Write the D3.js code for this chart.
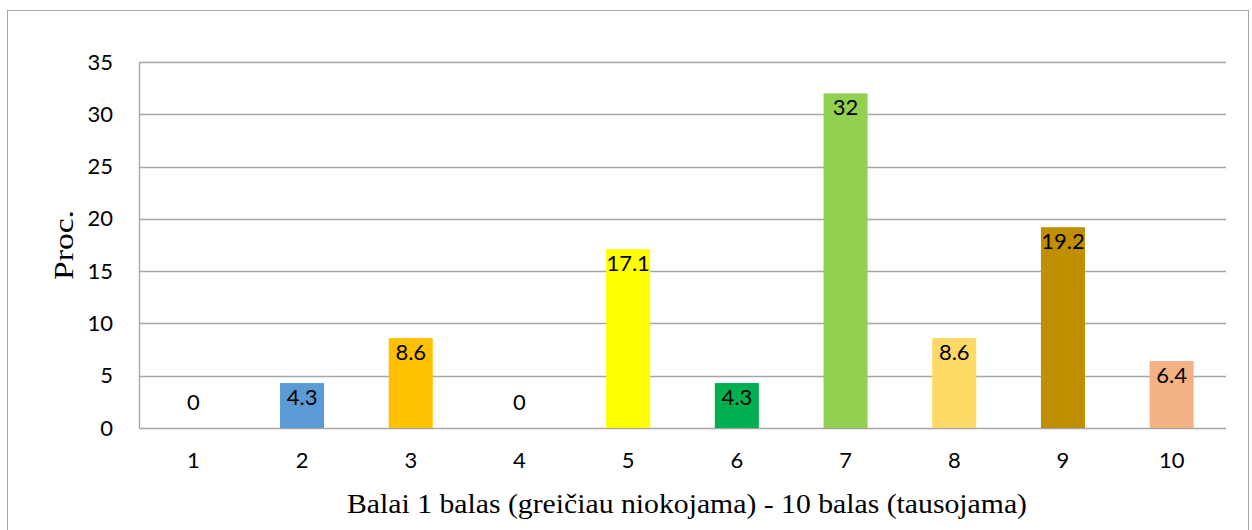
<!DOCTYPE html>
<html>
<head>
<meta charset="utf-8">
<script src="https://cdn.jsdelivr.net/npm/d3@7"></script>
<style>
  body { margin: 0; background: #fff; }
  svg { display: block; }
</style>
</head>
<body>
<div id="chart"></div>
<script>
// chart data
const categories = ["1", "2", "3", "4", "5", "6", "7", "8", "9", "10"];
const values = [0, 4.3, 8.6, 0, 17.1, 4.3, 32, 8.6, 19.2, 6.4];
const barColors = ["#5B9BD5", "#5B9BD5", "#FFC000", "#FFC000", "#FFFF00", "#00B050", "#92D050", "#FFD966", "#BF8F00", "#F4B183"];
const yTicks = [0, 5, 10, 15, 20, 25, 30, 35];
const xTitle = "Balai 1 balas (greičiau niokojama) - 10 balas (tausojama)";
const yTitle = "Proc.";

const W = 1252, H = 530;
const margin = { top: 62, right: 26, bottom: 102, left: 139 };
const width = W - margin.left - margin.right,
      height = H - margin.top - margin.bottom;

const svg = d3.select("#chart").append("svg")
    .attr("width", W)
    .attr("height", H);

// outer chart border
svg.append("rect")
    .attr("x", 7.5).attr("y", 10.5)
    .attr("width", 1241).attr("height", 530)
    .attr("fill", "none")
    .attr("stroke", "#a6a6a6")
    .attr("stroke-width", 1);

const g = svg.append("g")
    .attr("transform", `translate(${margin.left},${margin.top})`);

const x = d3.scaleBand()
    .domain(categories)
    .range([0, width])
    .paddingInner(0.595)
    .paddingOuter(0.2975);

const y = d3.scaleLinear()
    .domain([0, 35])
    .range([height, 0]);

// gridlines
g.append("g")
    .selectAll("line")
    .data(yTicks)
    .enter().append("line")
    .attr("x1", 0).attr("x2", width)
    .attr("y1", d => Math.round(y(d)) + 0.5)
    .attr("y2", d => Math.round(y(d)) + 0.5)
    .attr("stroke", "#a6a6a6")
    .attr("stroke-width", 1.3);

// y axis line
g.append("line")
    .attr("x1", 0.5).attr("x2", 0.5)
    .attr("y1", y(35)).attr("y2", y(0))
    .attr("stroke", "#a6a6a6")
    .attr("stroke-width", 1.3);

const tickFont = "Lato, 'Open Sans', sans-serif";

// y tick labels
const yAxis = g.append("g")
    .call(d3.axisLeft(y).tickValues(yTicks).tickSize(0).tickPadding(26));
yAxis.select(".domain").remove();
yAxis.selectAll("text")
    .style("font-family", tickFont)
    .style("font-size", "22px")
    .attr("fill", "#000");

// x tick labels
const xAxis = g.append("g")
    .attr("transform", `translate(0,${height})`)
    .call(d3.axisBottom(x).tickSize(0).tickPadding(24));
xAxis.select(".domain").remove();
xAxis.selectAll("text")
    .style("font-family", tickFont)
    .style("font-size", "22px")
    .attr("fill", "#000");

// bars
g.selectAll(".bar")
    .data(values)
    .enter().append("rect")
    .attr("class", "bar")
    .attr("x", (d, i) => x(categories[i]))
    .attr("y", d => y(d))
    .attr("width", x.bandwidth())
    .attr("height", d => y(0) - y(d))
    .attr("fill", (d, i) => barColors[i]);

// data labels
g.selectAll(".lbl")
    .data(values)
    .enter().append("text")
    .attr("class", "lbl")
    .attr("x", (d, i) => x(categories[i]) + x.bandwidth() / 2)
    .attr("y", d => d === 0 ? y(0) - 27 : y(d) + 13)
    .attr("text-anchor", "middle")
    .attr("dominant-baseline", "central")
    .style("font-family", tickFont)
    .style("font-size", "22px")
    .attr("fill", "#000")
    .text(d => d);

// axis titles
svg.append("text")
    .attr("x", 687)
    .attr("y", 513)
    .attr("text-anchor", "middle")
    .attr("textLength", 680)
    .attr("lengthAdjust", "spacingAndGlyphs")
    .style("font-family", "'Liberation Serif', 'Times New Roman', serif")
    .style("font-size", "28px")
    .text(xTitle);

svg.append("text")
    .attr("transform", "translate(73,245) rotate(-90)")
    .attr("text-anchor", "middle")
    .attr("textLength", 70)
    .attr("lengthAdjust", "spacingAndGlyphs")
    .style("font-family", "'Liberation Serif', 'Times New Roman', serif")
    .style("font-size", "28px")
    .text(yTitle);
</script>
</body>
</html>
